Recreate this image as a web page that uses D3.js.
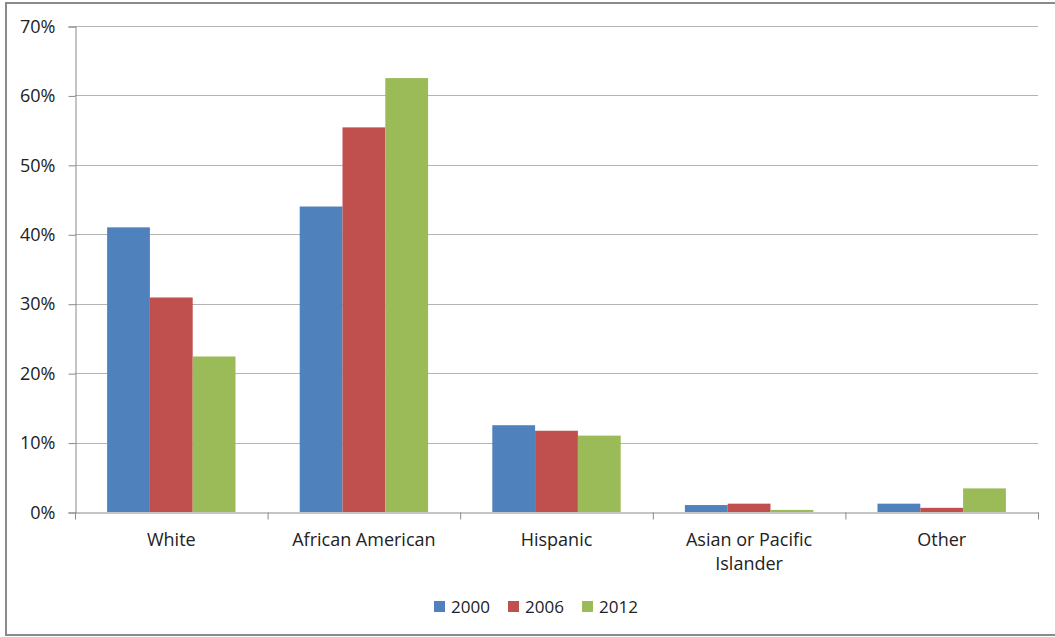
<!DOCTYPE html>
<html>
<head>
<meta charset="utf-8">
<script src="https://cdn.jsdelivr.net/npm/d3@7"></script>
<style>
  html, body { margin: 0; padding: 0; background: #fff; }
  svg text { font-family: "Open Sans", "Noto Sans", sans-serif; fill: #222; }
</style>
</head>
<body>
<svg id="chart" width="1055" height="637"></svg>
<script>
// Share of group by race/ethnicity, three survey years
const categories = ["White", "African American", "Hispanic", "Asian or Pacific Islander", "Other"];
const categoryLines = [["White"], ["African American"], ["Hispanic"], ["Asian or Pacific", "Islander"], ["Other"]];
const years = ["2000", "2006", "2012"];
const values2000 = [41.0, 44.0, 12.5, 1.0, 1.2];
const values2006 = [30.9, 55.4, 11.7, 1.2, 0.6];
const values2012 = [22.4, 62.5, 11.0, 0.3, 3.4];
const yTicks = [0, 10, 20, 30, 40, 50, 60, 70];
const colors = ["#4F81BD", "#C0504D", "#9BBB59"];

const seriesValues = [values2000, values2006, values2012];
const rows = categories.map((c, i) => ({
  category: c,
  lines: categoryLines[i],
  values: years.map((y, j) => ({ year: y, value: seriesValues[j][i], color: colors[j] }))
}));

const svg = d3.select("#chart");
const W = 1055, H = 637;
const plot = { left: 75, right: 1038, top: 26, bottom: 512 };

// outer frame
svg.append("rect")
  .attr("x", 6).attr("y", 3)
  .attr("width", W + 10).attr("height", H - 5)
  .attr("fill", "none").attr("stroke", "#8a8a8a").attr("stroke-width", 2);

const x0 = d3.scaleBand().domain(categories).range([plot.left, plot.right]).padding(0);
const x1 = d3.scaleBand().domain(years).range([0, x0.bandwidth()]).paddingInner(0).paddingOuter(0.75);
const y = d3.scaleLinear().domain([0, 70]).range([plot.bottom, plot.top]);

// gridlines
svg.append("g").selectAll("line").data(yTicks.filter(t => t > 0)).join("line")
  .attr("x1", plot.left).attr("x2", plot.right)
  .attr("y1", d => Math.round(y(d)) + 0.5).attr("y2", d => Math.round(y(d)) + 0.5)
  .attr("stroke", "#b3b3b3").attr("stroke-width", 1);

// bars
const groups = svg.append("g").selectAll("g").data(rows).join("g")
  .attr("transform", d => `translate(${x0(d.category)},0)`);
groups.selectAll("rect").data(d => d.values).join("rect")
  .attr("x", d => x1(d.year))
  .attr("width", x1.bandwidth())
  .attr("y", d => y(d.value))
  .attr("height", d => y(0) - y(d.value))
  .attr("fill", d => d.color);

// y axis
const yAxis = d3.axisLeft(y).tickValues(yTicks).tickFormat(d => d + "%").tickSize(7).tickPadding(13);
const gy = svg.append("g").attr("transform", `translate(${plot.left + 0.5},0.5)`).call(yAxis);
gy.select(".domain").attr("stroke", "#8a8a8a");
gy.selectAll(".tick line").attr("stroke", "#8a8a8a");
gy.selectAll(".tick text").style("font-size", "18px").attr("fill", "#222");

// x axis
const xAxis = d3.axisBottom(x0).tickValues([]).tickSizeOuter(0);
const gx = svg.append("g").attr("transform", `translate(0.5,${plot.bottom + 0.5})`).call(xAxis);
gx.select(".domain").attr("stroke", "#8a8a8a");
// category boundary ticks
gx.selectAll("line.sep").data(categories.concat([null])).join("line")
  .attr("class", "sep")
  .attr("x1", (d, i) => plot.left + i * x0.step())
  .attr("x2", (d, i) => plot.left + i * x0.step())
  .attr("y1", 0).attr("y2", 7)
  .attr("stroke", "#8a8a8a");

// category labels
const labels = svg.append("g").selectAll("text").data(rows).join("text")
  .attr("x", d => x0(d.category) + x0.bandwidth() / 2)
  .attr("y", 546)
  .attr("text-anchor", "middle")
  .style("font-size", "18px");
labels.selectAll("tspan").data(d => d.lines).join("tspan")
  .attr("x", function () { return d3.select(this.parentNode).attr("x"); })
  .attr("dy", (d, i) => i === 0 ? 0 : 24)
  .text(d => d);

// legend
const legendItems = [
  { year: years[0], color: colors[0], x: 434 },
  { year: years[1], color: colors[1], x: 508 },
  { year: years[2], color: colors[2], x: 582 }
];
const legend = svg.append("g").selectAll("g").data(legendItems).join("g")
  .attr("transform", d => `translate(${d.x},601)`);
legend.append("rect").attr("width", 11).attr("height", 11).attr("fill", d => d.color);
legend.append("text").attr("x", 17).attr("y", 12).style("font-size", "17px").text(d => d.year);
</script>
</body>
</html>
